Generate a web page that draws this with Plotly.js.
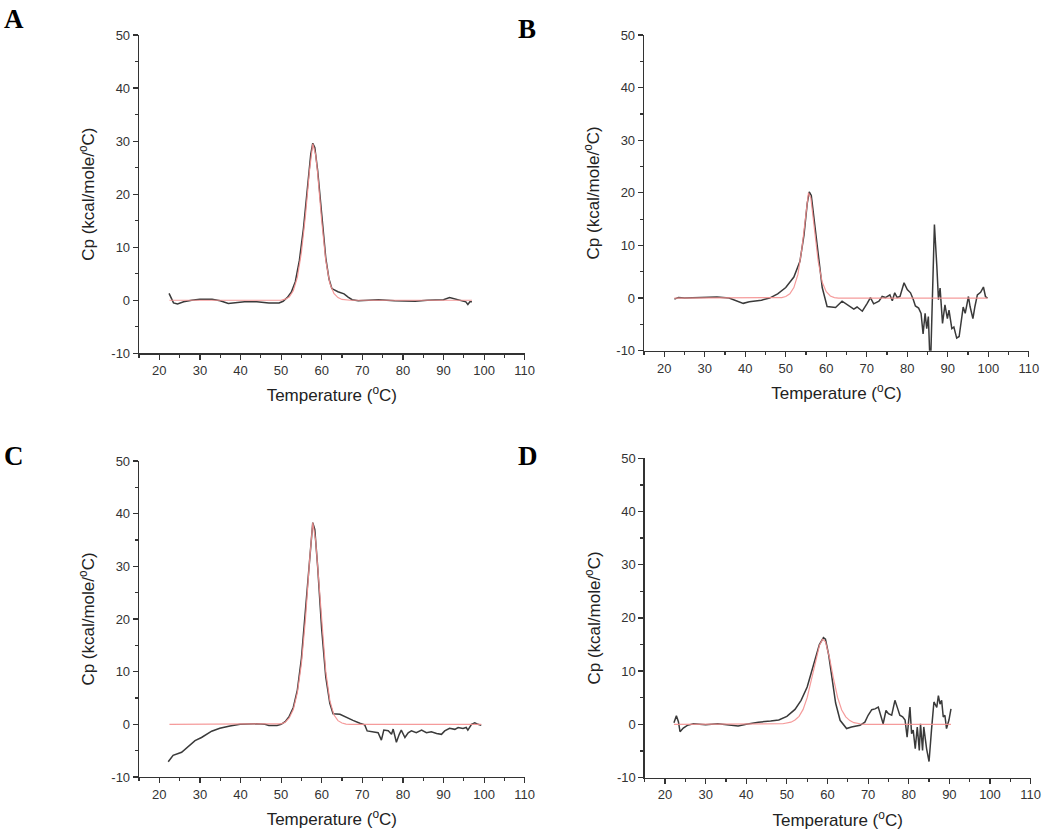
<!DOCTYPE html>
<html>
<head>
<meta charset="utf-8">
<script src="https://cdn.plot.ly/plotly-3.0.1.min.js"></script>
<style>html,body{margin:0;padding:0;background:#fff}#chart{width:1050px;height:836px}</style>
</head>
<body>
<div id="chart"></div>
<script>
// ---- Panel A ----
const aTemp = [22.4,23,23.5,24.5,26,28,30,33,35,37,39,41,44,47,49.5,50.5,51.5,52.5,53.5,54.5,55.5,56.5,57.3,57.8,58.3,59,60,61,61.8,62.5,64,65.5,66.5,67.5,69,72,74,78,83,86,90,91.5,92.5,94,95.5,96,96.5,97];
const aCp   = [1.3,0.3,-0.5,-0.7,-0.3,0,0.2,0.2,-0.1,-0.6,-0.5,-0.3,-0.3,-0.5,-0.5,-0.2,0.5,1.5,3.5,7.5,13.5,21,27.5,29.6,28.8,24.5,16,8,4,2.2,1.6,1.2,0.6,0.1,-0.1,0,0.1,-0.1,-0.2,0,0.1,0.5,0.3,0.1,-0.3,-0.8,-0.3,-0.3];
const aFitTemp = [22.5,50,51,52,53,54,55,56,57,57.8,58.5,59,60,61,62,63,64,65,67,97];
const aFitCp   = [0,0,0.2,0.6,1.8,4.3,9,16,24.5,29.5,27.5,24,15,7.5,3.2,1.3,0.5,0.15,0,0];

// ---- Panel B ----
const bTemp = [22.5,23.5,25,30,33,36,38,39.5,41,44,46,48,50,52,53.5,54.5,55.3,55.8,56.3,57,58,59,60.2,61.5,62.3,63.9,65.5,66.8,67.6,68.9,70.1,70.9,71.7,73,73.8,74.6,75.7,76.3,76.9,77.5,78.2,79.2,80,80.8,81.5,82,82.8,83.4,83.9,84.4,84.8,85.2,85.7,86.2,86.7,87.3,87.7,88.1,88.7,89.3,89.9,90.3,91,91.5,92.2,92.8,93.4,93.8,94.3,95.1,95.5,96.2,96.7,97.3,98.1,98.8,99.3,99.8];
const bCp   = [-0.2,0.1,0,0.1,0.2,0,-0.5,-1.0,-0.7,-0.4,0,0.8,2,4,7,12,18,20.2,19.5,15,8,2,-1.6,-1.8,-1.8,-0.6,-1.5,-2.1,-1.7,-2.5,-1,0.1,-1.1,-0.6,0.3,0.1,0.6,-0.5,1,0.1,0.3,2.9,1.6,1,-0.3,-1.5,-1.9,-2.9,-6.8,-2.9,-5.8,-3.5,-14,0,14,6,-0.3,1.9,-4.8,-1.3,-3.9,-2.3,-5.8,-5.5,-7.6,-7.3,-3.9,-1.7,-2.9,0.3,-1.6,-3.9,-1.6,0.6,1.1,2.1,0.3,0];
const bFitTemp = [22.5,48,49,50,51,52,53,54,55,55.6,56.2,57,58,59,60,61,62,63,99.8];
const bFitCp   = [0,0,0.1,0.3,0.8,2,4.5,9.5,16,20,19,14,7,3,1.2,0.4,0.1,0,0];

// ---- Panel C ----
const cTemp = [22.2,23.4,25.5,27.1,28.8,30.4,32.9,34.9,37.4,39.9,42,44,46,47,49,50,51,52,53,54,55,56,57,57.8,58.3,59,60,61,62,62.8,64.5,66.1,67.7,69.4,70.6,71.2,72.3,73.9,74.7,75.3,76.4,77.2,77.6,78.4,79.1,79.6,80.5,81.3,82.1,83.3,84.6,85.8,87,88.3,89.5,90.3,91.5,92.8,93.6,94.8,95.6,96,96.9,97.7,98.5,99.3];
const cCp   = [-7.1,-5.9,-5.3,-4.3,-3.1,-2.5,-1.3,-0.75,-0.3,0,0.1,0.1,0,-0.2,-0.2,0,0.5,1.5,3.2,6.5,12.5,21.5,31,38.3,37,30,18,9,4,2,1.9,1.4,0.75,0.2,-0.1,-1.25,-1.4,-1.6,-3,-1.1,-1.2,-1.9,-0.9,-3.4,-1.9,-1.1,-2.5,-1.6,-1.25,-1.6,-1.1,-1.6,-1.4,-1.75,-1.9,-1.25,-0.75,-0.95,-0.6,-0.8,-0.6,-1.1,0,0.3,0,-0.2];
const cFitTemp = [22.5,48,50,51,52,53,54,55,56,57,57.8,58.5,59,60,61,62,63,64,65,66,67,99.3];
const cFitCp   = [0,0,0.1,0.4,1.2,2.8,6,11.5,20,31,38.3,35,30,19,10,4.5,1.8,0.7,0.25,0.05,0,0];

// ---- Panel D ----
const dTemp = [22.2,22.8,23.3,23.7,24.5,25.5,27,30,33,36,38,40,43,46,48,50,52,53.5,55,56.5,58,59,59.5,60.3,61,62,63.1,64.7,65.9,68,69.2,70,70.9,71.7,72.5,73.1,73.7,74.4,75,75.8,76.6,77.3,77.8,78.5,79.1,79.6,80.3,80.7,81.1,81.6,82.1,82.6,82.9,83.4,83.7,84.4,85,85.6,86.2,86.9,87.3,87.7,88.1,88.5,88.9,89.3,89.9,90.4];
const dCp   = [0.3,1.6,0.5,-1.4,-0.7,-0.2,0.1,-0.1,0.1,-0.1,-0.3,0,0.4,0.6,0.8,1.5,2.8,4.5,7,11,15,16.3,16,13,9,4,0.75,-0.8,-0.5,-0.2,0.4,1.7,2.75,2.9,3.25,1.4,0.1,2.6,2,1.7,4.5,2.9,1.7,1.4,0.8,-2.4,3.25,-1.75,-1.1,-4.6,-0.5,-4.9,0.1,-4.9,-0.5,-4.6,-7,-1.1,4.2,3.2,5.4,3.8,4.5,1.4,1.7,-0.8,0.8,2.9];
const dFitTemp = [22.2,47,49,51,52,53,54,55,56,57,58,58.8,59.5,60.5,61.5,62.5,63.5,64.5,65.5,66.5,68,69,90.4];
const dFitCp   = [0,0,0.1,0.4,0.8,1.5,2.8,5,8,11.5,14.8,16,15.5,12.5,8.5,5,2.7,1.4,0.7,0.3,0.1,0,0];

const xTicks = [20,30,40,50,60,70,80,90,100,110];
const yTicks = [-10,0,10,20,30,40,50];

const dataColor = '#3a3a3a';
const fitColor = '#f49090';

function pair(x, y, xa, ya) {
  return [
    {x: x.black, y: y.black, xaxis: xa, yaxis: ya, type: 'scatter', mode: 'lines',
     line: {color: dataColor, width: 1.5}, hoverinfo: 'skip', showlegend: false},
    {x: x.fit, y: y.fit, xaxis: xa, yaxis: ya, type: 'scatter', mode: 'lines',
     line: {color: fitColor, width: 1.2}, opacity: 0.9, hoverinfo: 'skip', showlegend: false}
  ];
}

const traces = [].concat(
  pair({black: aTemp, fit: aFitTemp}, {black: aCp, fit: aFitCp}, 'x', 'y'),
  pair({black: bTemp, fit: bFitTemp}, {black: bCp, fit: bFitCp}, 'x2', 'y2'),
  pair({black: cTemp, fit: cFitTemp}, {black: cCp, fit: cFitCp}, 'x3', 'y3'),
  pair({black: dTemp, fit: dFitTemp}, {black: dCp, fit: dFitCp}, 'x4', 'y4')
);

const tickFont = {family: 'Liberation Sans, Arial, sans-serif', size: 13, color: '#333'};
const titleFont = {family: 'Liberation Sans, Arial, sans-serif', size: 17, color: '#222'};

function xa(domain, anchor) {
  return {
    domain: domain, anchor: anchor, range: [15, 110], autorange: false,
    tickmode: 'array', tickvals: xTicks, ticktext: xTicks.map(String),
    ticks: 'outside', ticklen: 5, tickwidth: 1.2, tickcolor: '#333',
    minor: {tickmode: 'array', tickvals: [15,25,35,45,55,65,75,85,95,105], ticks: 'outside', ticklen: 3, tickwidth: 1.2, tickcolor: '#333'},
    showline: true, linecolor: '#333', linewidth: 1.3, showgrid: false, zeroline: false,
    tickfont: tickFont,
    title: {text: 'Temperature (<sup>o</sup>C)', font: titleFont, standoff: 12},
    fixedrange: true
  };
}
function ya(domain, anchor) {
  return {
    domain: domain, anchor: anchor, range: [-10, 50], autorange: false,
    tickmode: 'array', tickvals: yTicks, ticktext: yTicks.map(String),
    ticks: 'outside', ticklen: 5, tickwidth: 1.2, tickcolor: '#333',
    minor: {tickmode: 'array', tickvals: [-5,5,15,25,35,45], ticks: 'outside', ticklen: 3, tickwidth: 1.2, tickcolor: '#333'},
    showline: true, linecolor: '#333', linewidth: 1.3, showgrid: false, zeroline: false,
    tickfont: tickFont,
    title: {text: 'Cp (kcal/mole/<sup>o</sup>C)', font: titleFont, standoff: 12},
    fixedrange: true
  };
}

const W = 1050, H = 836;
const layout = {
  width: W, height: H,
  margin: {l: 0, r: 0, t: 0, b: 0},
  paper_bgcolor: '#fff', plot_bgcolor: '#fff',
  showlegend: false,
  xaxis:  xa([139/W, 524.7/W], 'y'),
  yaxis:  ya([1-353.3/H, 1-35/H], 'x'),
  xaxis2: xa([644/W, 1028.8/W], 'y2'),
  yaxis2: ya([1-350.7/H, 1-35/H], 'x2'),
  xaxis3: xa([139/W, 524.7/W], 'y3'),
  yaxis3: ya([1-777/H, 1-461/H], 'x3'),
  xaxis4: xa([644.7/W, 1030.6/W], 'y4'),
  yaxis4: ya([1-777.5/H, 1-458.3/H], 'x4'),
  annotations: [
    {text: '<b>A</b>', x: 2/W, y: 1-19/H, xref: 'paper', yref: 'paper', xanchor: 'left', yanchor: 'middle', showarrow: false, font: {family: 'Liberation Serif, Times New Roman, serif', size: 27, color: '#000'}},
    {text: '<b>B</b>', x: 516/W, y: 1-29/H, xref: 'paper', yref: 'paper', xanchor: 'left', yanchor: 'middle', showarrow: false, font: {family: 'Liberation Serif, Times New Roman, serif', size: 27, color: '#000'}},
    {text: '<b>C</b>', x: 2/W, y: 1-456/H, xref: 'paper', yref: 'paper', xanchor: 'left', yanchor: 'middle', showarrow: false, font: {family: 'Liberation Serif, Times New Roman, serif', size: 27, color: '#000'}},
    {text: '<b>D</b>', x: 516/W, y: 1-456/H, xref: 'paper', yref: 'paper', xanchor: 'left', yanchor: 'middle', showarrow: false, font: {family: 'Liberation Serif, Times New Roman, serif', size: 27, color: '#000'}}
  ]
};

Plotly.newPlot('chart', traces, layout, {staticPlot: true, displayModeBar: false});
</script>
</body>
</html>
